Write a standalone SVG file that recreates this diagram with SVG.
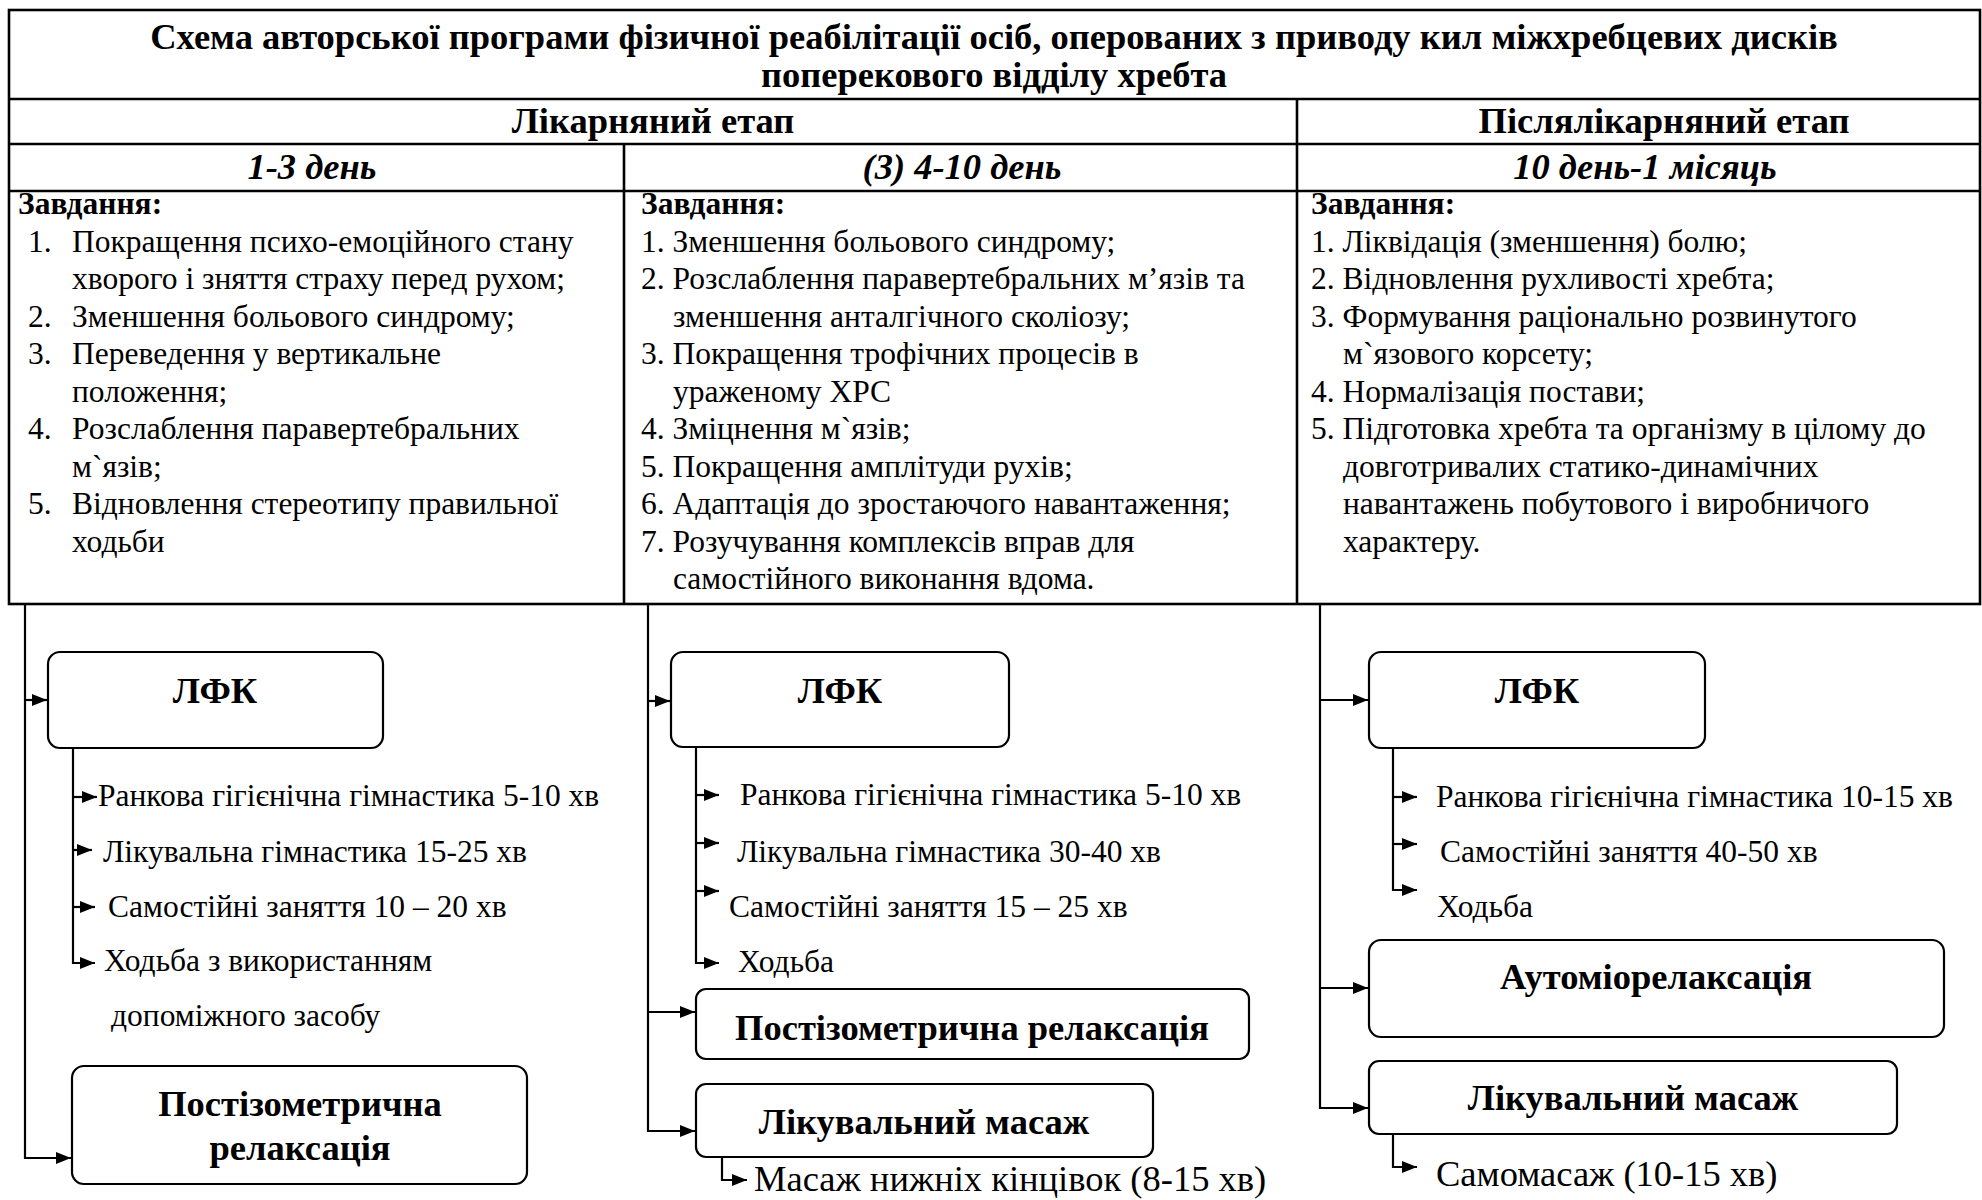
<svg xmlns="http://www.w3.org/2000/svg" width="1982" height="1200" viewBox="0 0 1982 1200">
<defs>
<style>
text{font-family:"Liberation Serif","Times New Roman",serif;fill:#000}
.hc{font-size:36.5px;font-weight:bold;text-anchor:middle}
.hi{font-size:36.5px;font-weight:bold;font-style:italic;text-anchor:middle}
.b{font-size:31.5px}
.bb{font-size:31.5px;font-weight:bold}
.bl{font-size:36.5px;font-weight:bold;text-anchor:middle}
.m{font-size:36.5px}
.grid{stroke:#000;stroke-width:2.6;fill:none}
.box{fill:#fff;stroke:#000;stroke-width:2.2}
.c{stroke:#000;stroke-width:2.2;fill:none}
</style>
<marker id="ah" markerUnits="userSpaceOnUse" markerWidth="15" markerHeight="12" refX="15" refY="6" orient="auto" viewBox="0 0 15 12">
<path d="M0,0 L15,6 L0,12 z" fill="#000"/>
</marker>
</defs>
<rect width="1982" height="1200" fill="#fff"/>

<g id="table">
<rect class="grid" x="9" y="10" width="1971" height="594"/>
<line class="grid" x1="9" y1="99" x2="1980" y2="99"/>
<line class="grid" x1="9" y1="144" x2="1980" y2="144"/>
<line class="grid" x1="9" y1="191" x2="1980" y2="191"/>
<line class="grid" x1="1297" y1="99" x2="1297" y2="604"/>
<line class="grid" x1="624" y1="144" x2="624" y2="604"/>
<text class="hc" x="994" y="49">Схема авторської програми фізичної реабілітації осіб, оперованих з приводу кил міжхребцевих дисків</text>
<text class="hc" x="994" y="87">поперекового відділу хребта</text>
<text class="hc" x="653" y="133">Лікарняний етап</text>
<text class="hc" x="1664" y="133">Післялікарняний етап</text>
<text class="hi" x="312" y="179">1-3 день</text>
<text class="hi" x="962" y="179">(3) 4-10 день</text>
<text class="hi" x="1645" y="179">10 день-1 місяць</text>
</g>

<g id="tasks1">
<text class="bb" x="18" y="214">Завдання:</text>
<text class="b" x="28" y="251.5">1.</text><text class="b" x="72" y="251.5">Покращення психо-емоційного стану</text>
<text class="b" x="72" y="289">хворого і зняття страху перед рухом;</text>
<text class="b" x="28" y="326.5">2.</text><text class="b" x="72" y="326.5">Зменшення больового синдрому;</text>
<text class="b" x="28" y="364">3.</text><text class="b" x="72" y="364">Переведення у вертикальне</text>
<text class="b" x="72" y="401.5">положення;</text>
<text class="b" x="28" y="439">4.</text><text class="b" x="72" y="439">Розслаблення паравертебральних</text>
<text class="b" x="72" y="476.5">м`язів;</text>
<text class="b" x="28" y="514">5.</text><text class="b" x="72" y="514">Відновлення стереотипу правильної</text>
<text class="b" x="72" y="551.5">ходьби</text>
</g>

<g id="tasks2">
<text class="bb" x="641" y="214">Завдання:</text>
<text class="b" x="641" y="251.5">1. Зменшення больового синдрому;</text>
<text class="b" x="641" y="289">2. Розслаблення паравертебральних м’язів та</text>
<text class="b" x="673" y="326.5">зменшення анталгічного сколіозу;</text>
<text class="b" x="641" y="364">3. Покращення трофічних процесів в</text>
<text class="b" x="673" y="401.5">ураженому ХРС</text>
<text class="b" x="641" y="439">4. Зміцнення м`язів;</text>
<text class="b" x="641" y="476.5">5. Покращення амплітуди рухів;</text>
<text class="b" x="641" y="514">6. Адаптація до зростаючого навантаження;</text>
<text class="b" x="641" y="551.5">7. Розучування комплексів вправ для</text>
<text class="b" x="673" y="589">самостійного виконання вдома.</text>
</g>

<g id="tasks3">
<text class="bb" x="1311" y="214">Завдання:</text>
<text class="b" x="1311" y="251.5">1. Ліквідація (зменшення) болю;</text>
<text class="b" x="1311" y="289">2. Відновлення рухливості хребта;</text>
<text class="b" x="1311" y="326.5">3. Формування раціонально розвинутого</text>
<text class="b" x="1343" y="364">м`язового корсету;</text>
<text class="b" x="1311" y="401.5">4. Нормалізація постави;</text>
<text class="b" x="1311" y="439">5. Підготовка хребта та організму в цілому до</text>
<text class="b" x="1343" y="476.5">довготривалих статико-динамічних</text>
<text class="b" x="1343" y="514">навантажень побутового і виробничого</text>
<text class="b" x="1343" y="551.5">характеру.</text>
</g>

<g id="connectors">
<path class="c" d="M25,604 V1158 H71" marker-end="url(#ah)"/>
<path class="c" d="M25,700 H47" marker-end="url(#ah)"/>
<path class="c" d="M73,748 V963 H95" marker-end="url(#ah)"/>
<path class="c" d="M73,797 H97" marker-end="url(#ah)"/>
<path class="c" d="M73,850 H92" marker-end="url(#ah)"/>
<path class="c" d="M73,907 H95" marker-end="url(#ah)"/>

<path class="c" d="M648,604 V1131 H695" marker-end="url(#ah)"/>
<path class="c" d="M648,701 H670" marker-end="url(#ah)"/>
<path class="c" d="M648,1012 H695" marker-end="url(#ah)"/>
<path class="c" d="M696,748 V963 H719" marker-end="url(#ah)"/>
<path class="c" d="M696,795 H719" marker-end="url(#ah)"/>
<path class="c" d="M696,843 H719" marker-end="url(#ah)"/>
<path class="c" d="M696,891 H719" marker-end="url(#ah)"/>
<path class="c" d="M722,1157 V1180 H747" marker-end="url(#ah)"/>

<path class="c" d="M1320,604 V1108 H1368" marker-end="url(#ah)"/>
<path class="c" d="M1320,700 H1368" marker-end="url(#ah)"/>
<path class="c" d="M1320,988 H1368" marker-end="url(#ah)"/>
<path class="c" d="M1393,748 V890 H1417" marker-end="url(#ah)"/>
<path class="c" d="M1393,797 H1417" marker-end="url(#ah)"/>
<path class="c" d="M1393,844 H1417" marker-end="url(#ah)"/>
<path class="c" d="M1393,1134 V1167 H1417" marker-end="url(#ah)"/>
</g>

<g id="lfk1">
<rect class="box" x="48" y="652" width="335" height="96" rx="12"/>
<text class="bl" x="215" y="703">ЛФК</text>
</g>
<g id="items1">
<text class="b" x="98" y="806">Ранкова гігієнічна гімнастика 5-10 хв</text>
<text class="b" x="103" y="862">Лікувальна гімнастика 15-25 хв</text>
<text class="b" x="108" y="917">Самостійні заняття 10 – 20 хв</text>
<text class="b" x="104" y="971">Ходьба з використанням</text>
<text class="b" x="111" y="1026">допоміжного засобу</text>
</g>
<g id="pir1">
<rect class="box" x="72" y="1066" width="455" height="118" rx="12"/>
<text class="bl" x="300" y="1116">Постізометрична</text>
<text class="bl" x="300" y="1160">релаксація</text>
</g>

<g id="lfk2">
<rect class="box" x="671" y="652" width="338" height="95" rx="12"/>
<text class="bl" x="840" y="703">ЛФК</text>
</g>
<g id="items2">
<text class="b" x="740" y="805">Ранкова гігієнічна гімнастика 5-10 хв</text>
<text class="b" x="737" y="862">Лікувальна гімнастика 30-40 хв</text>
<text class="b" x="729" y="917">Самостійні заняття 15 – 25 хв</text>
<text class="b" x="738" y="972">Ходьба</text>
</g>
<g id="pir2">
<rect class="box" x="696" y="989" width="553" height="70" rx="10"/>
<text class="bl" x="972" y="1040">Постізометрична релаксація</text>
</g>
<g id="massage2">
<rect class="box" x="696" y="1084" width="457" height="73" rx="10"/>
<text class="bl" x="924" y="1134">Лікувальний масаж</text>
<text class="m" x="754" y="1191">Масаж нижніх кінцівок (8-15 хв)</text>
</g>

<g id="lfk3">
<rect class="box" x="1369" y="652" width="336" height="96" rx="12"/>
<text class="bl" x="1537" y="703">ЛФК</text>
</g>
<g id="items3">
<text class="b" x="1436" y="807">Ранкова гігієнічна гімнастика 10-15 хв</text>
<text class="b" x="1440" y="862">Самостійні заняття 40-50 хв</text>
<text class="b" x="1437" y="917">Ходьба</text>
</g>
<g id="autorelax3">
<rect class="box" x="1369" y="940" width="575" height="97" rx="12"/>
<text class="bl" x="1656" y="989">Аутоміорелаксація</text>
</g>
<g id="massage3">
<rect class="box" x="1369" y="1061" width="528" height="73" rx="10"/>
<text class="bl" x="1633" y="1110">Лікувальний масаж</text>
<text class="m" x="1436" y="1186">Самомасаж (10-15 хв)</text>
</g>
</svg>
